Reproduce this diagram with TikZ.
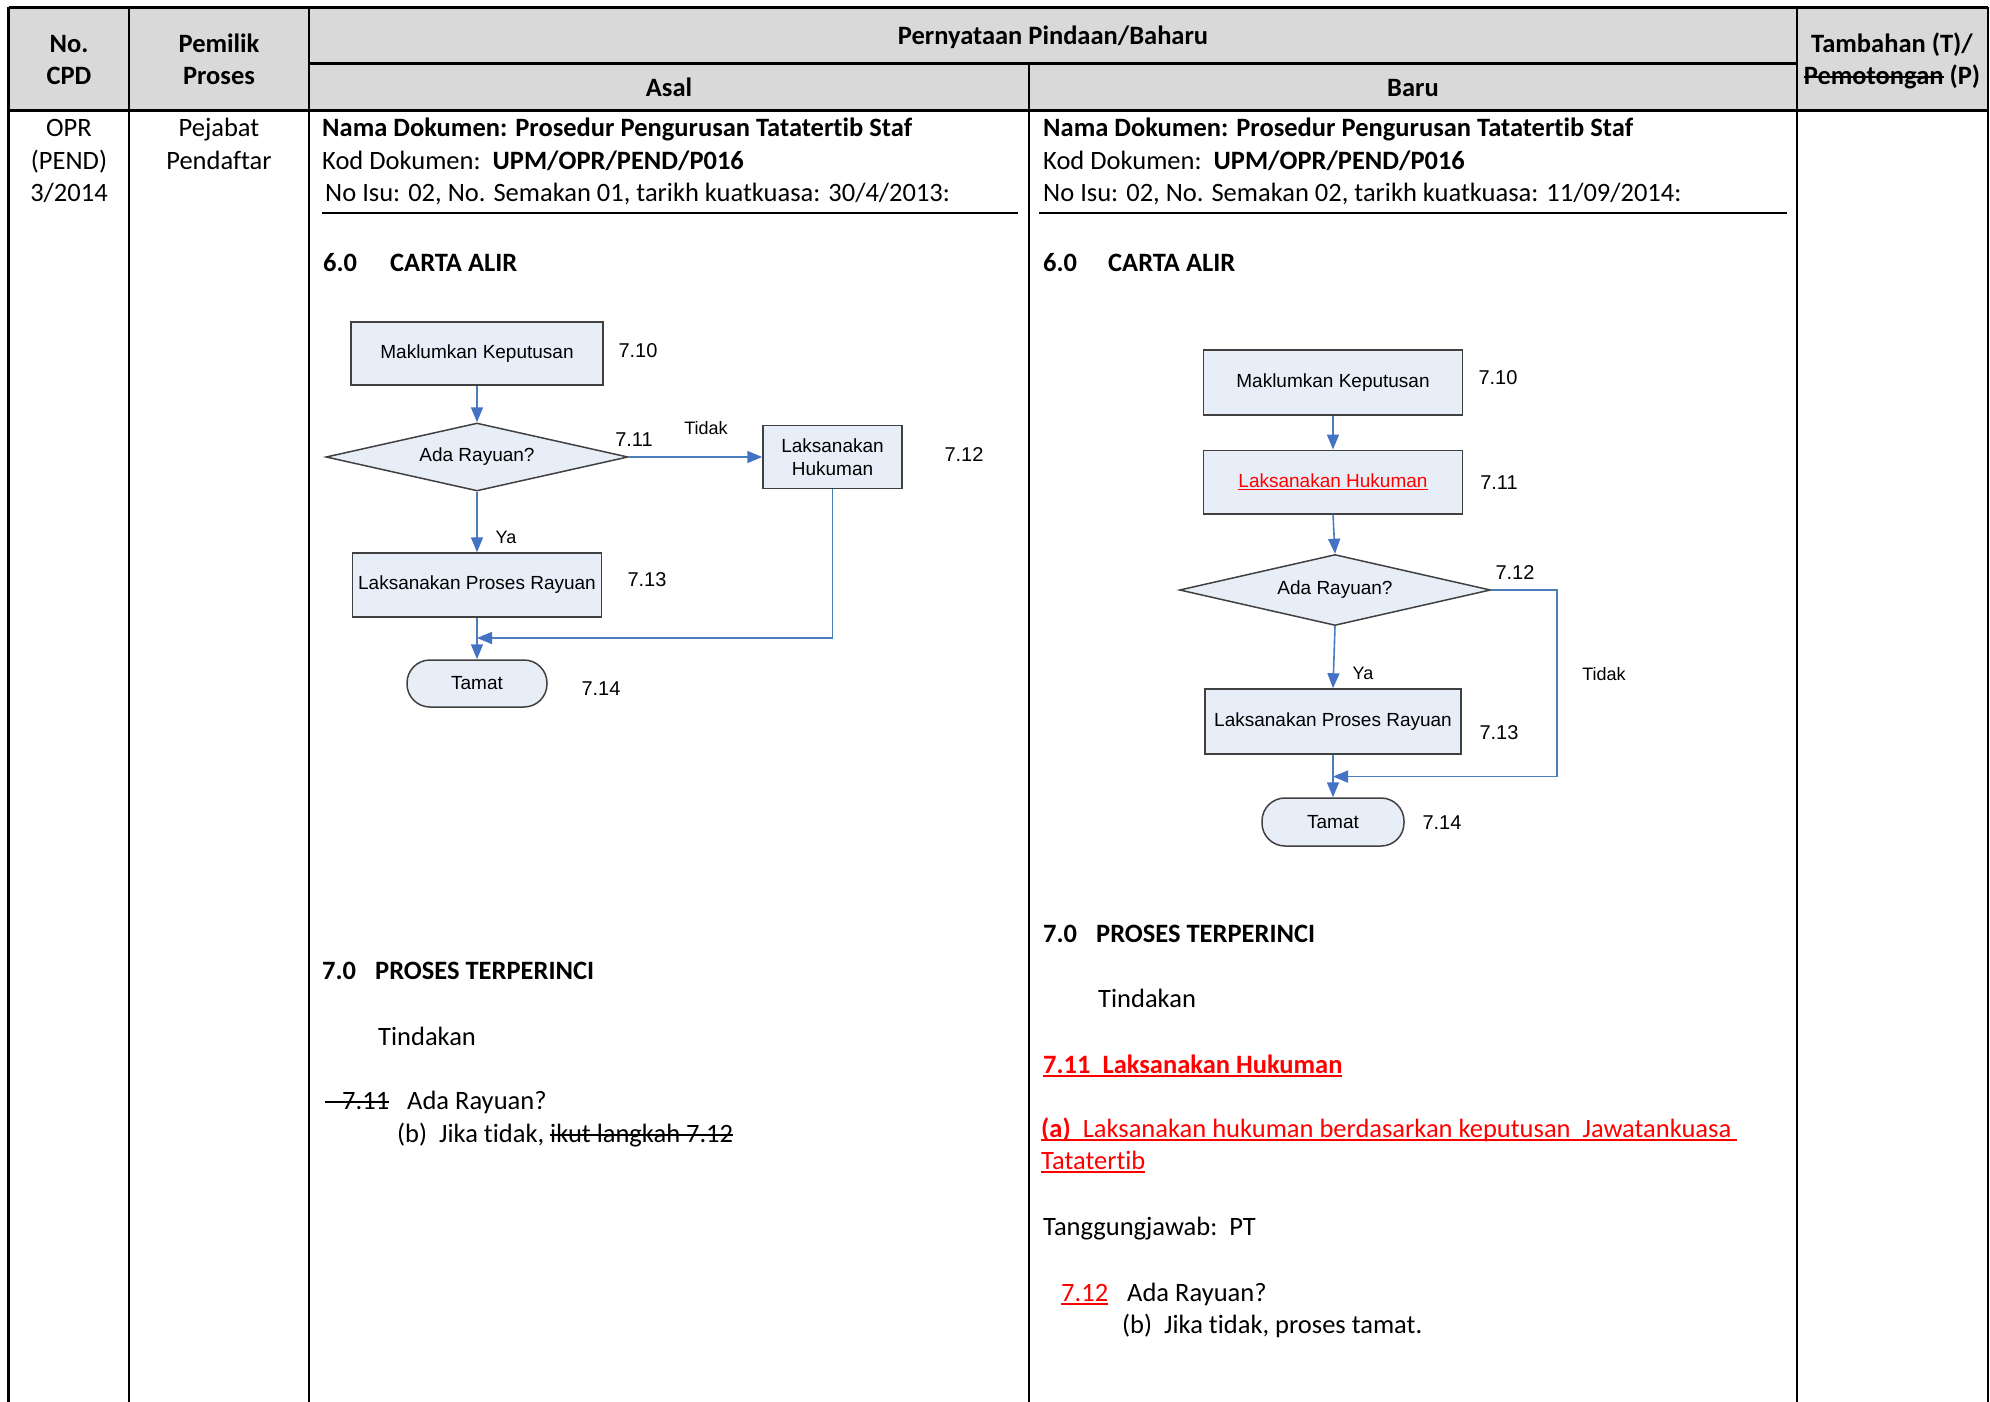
\documentclass[tikz,border=0pt]{standalone}
\usepackage{fontspec}
\setmainfont{Carlito}[Ligatures={NoCommon,NoContextual}]
\newfontfamily\chartfont{Liberation Sans}
\usetikzlibrary{shapes.geometric,arrows.meta}
\newcommand\myul[1]{\setbox0\hbox{#1}\rlap{\rule[-0.13em]{\wd0}{0.065em}}\box0\relax}
\newcommand\mystrike[1]{\setbox0\hbox{#1}\rlap{\rule[0.26em]{\wd0}{0.06em}}\box0\relax}
\definecolor{hdr}{HTML}{D9D9D9}
\definecolor{boxfill}{HTML}{E8EEF8}
\definecolor{boxline}{HTML}{404040}
\definecolor{flow}{HTML}{4A7EBB}
\definecolor{tipc}{HTML}{4472C4}
\definecolor{redtxt}{HTML}{FF0000}
\tikzset{
  tline/.style={line width=2.6pt, black},
  body/.style={inner sep=0pt, font=\fontsize{26.5}{32}\selectfont, text height=17pt, text depth=0pt},
  hb/.style={body, font=\fontsize{26.5}{32}\selectfont\bfseries},
  fbox/.style={draw=boxline, line width=1.5pt, fill=boxfill, inner sep=0pt,
    font=\chartfont\fontsize{19}{24}\selectfont, align=center},
  termbox/.style={fbox, rounded corners=23pt},
  dia/.style={fbox, diamond, aspect=4.4},
  lbl/.style={inner sep=0pt, font=\chartfont\fontsize{20}{24}\selectfont, text height=14.3pt, text depth=0pt},
  yn/.style={inner sep=0pt, font=\chartfont\fontsize{18}{22}\selectfont, text height=13pt, text depth=0pt},
  arr/.style={draw=flow, line width=1.6pt, -{Triangle[length=15pt,width=12pt,color=tipc]}}
}
\begin{document}
\begin{tikzpicture}[x=1pt,y=-1pt]
\useasboundingbox (0,0) rectangle (1990,1402);
% ---------- table ----------
\fill[hdr] (8.5,7.5) rectangle (1988,110.5);
\draw[tline] (8.5,7.5) -- (1988,7.5);
\draw[tline] (309,63.5) -- (1797,63.5);
\draw[tline] (8.5,110.5) -- (1988,110.5);
\draw[tline] (8.5,7.5) -- (8.5,1402);
\draw[tline] (129,7.5) -- (129,1402);
\draw[tline] (309,7.5) -- (309,1402);
\draw[tline] (1029,63.5) -- (1029,1402);
\draw[tline] (1797,7.5) -- (1797,1402);
\draw[tline] (1988,7.5) -- (1988,1402);
% header texts
\node[hb] (hno) at (69,44) {No.};
\node[hb] (hcpd) at (69,76) {CPD};
\node[hb] (hpem) at (219,44) {Pemilik};
\node[hb] (hpro) at (219,76) {Proses};
\node[hb] (hpern) at (1053,36) {Pernyataan Pindaan/Baharu};
\node[hb] (hasal) at (669,88) {Asal};
\node[hb] (hbaru) at (1413,88) {Baru};
\node[hb] (htam) at (1892,44) {Tambahan (T)/};
\node[hb] (hpot) at (1892,76) {\mystrike{Pemotongan} (P)};
% column 1 and 2
\node[body] (opr) at (69,128) {OPR};
\node[body] (pend) at (69,161) {(PEND)};
\node[body] (yr) at (69,193) {3/2014};
\node[body] (pej) at (219,128) {Pejabat};
\node[body] (pdf) at (219,161) {Pendaftar};
% ---------- Asal text ----------
\node[hb, anchor=west] (a1) at (322,128) {Nama Dokumen: Prosedur Pengurusan Tatatertib Staf};
\node[body, anchor=west] (a2) at (322,161) {Kod Dokumen:\ \ \textbf{UPM/OPR/PEND/P016}};
\node[body, anchor=west] (a3) at (325,193) {No Isu: 02, No. Semakan 01, tarikh kuatkuasa: 30/4/2013:};
\draw[line width=2pt] (322,213) -- (1018,213);
\node[hb, anchor=west] (a60) at (323,263) {6.0};
\node[hb, anchor=west] (a6t) at (390,263) {CARTA ALIR};
\node[hb, anchor=west] (a70) at (322,971) {7.0};
\node[hb, anchor=west] (a7t) at (375,971) {PROSES TERPERINCI};
\node[body, anchor=west] (atin) at (378,1037) {Tindakan};
\node[body, anchor=west] (a711) at (325,1101) {\mystrike{\hbox to 17pt{}7.11}};
\node[body, anchor=west] (aada) at (407,1101) {Ada Rayuan?};
\node[body, anchor=west] (ab) at (397,1134) {(b)\ \ Jika tidak, \mystrike{ikut langkah 7.12}};
% ---------- Baru text ----------
\node[hb, anchor=west] (b1) at (1043,128) {Nama Dokumen: Prosedur Pengurusan Tatatertib Staf};
\node[body, anchor=west] (b2) at (1043,161) {Kod Dokumen:\ \ \textbf{UPM/OPR/PEND/P016}};
\node[body, anchor=west] (b3) at (1043,193) {No Isu: 02, No. Semakan 02, tarikh kuatkuasa: 11/09/2014:};
\draw[line width=2pt] (1039,213) -- (1787,213);
\node[hb, anchor=west] (b60) at (1043,263) {6.0};
\node[hb, anchor=west] (b6t) at (1108,263) {CARTA ALIR};
\node[hb, anchor=west] (b70) at (1043,934) {7.0};
\node[hb, anchor=west] (b7t) at (1096,934) {PROSES TERPERINCI};
\node[body, anchor=west] (btin) at (1098,999) {Tindakan};
\node[hb, anchor=west, text=redtxt] (b711) at (1043,1065) {\myul{7.11\ \ Laksanakan Hukuman}};
\node[body, anchor=west, text=redtxt] (ba) at (1041,1129) {\myul{\textbf{(a)}\ \ Laksanakan hukuman berdasarkan keputusan\ \ Jawatankuasa\ }};
\node[body, anchor=west, text=redtxt] (bta) at (1041,1161) {\myul{Tatatertib}};
\node[body, anchor=west] (btg) at (1043,1227) {Tanggungjawab:\ \ PT};
\node[body, anchor=west, text=redtxt] (b712) at (1061,1293) {\myul{7.12}};
\node[body, anchor=west] (bada) at (1127,1293) {Ada Rayuan?};
\node[body, anchor=west] (bb) at (1122,1325) {(b)\ \ Jika tidak, proses tamat.};
% ---------- left flowchart ----------
\node[fbox, minimum width=252pt, minimum height=63pt] (m1) at (477,353.5) {Maklumkan Keputusan};
\node[dia, minimum width=302pt, minimum height=68pt] (d1) at (477,457) {Ada Rayuan?};
\node[fbox, minimum width=139pt, minimum height=63pt] (h1) at (832.5,457) {Laksanakan\\[-1pt]Hukuman};
\node[fbox, minimum width=249pt, minimum height=64pt] (r1) at (477,585) {Laksanakan Proses Rayuan};
\node[termbox, minimum width=140pt, minimum height=47pt] (t1) at (477,683.5) {Tamat};
\coordinate (j1) at (477,638);
\node[lbl] (l710) at (638,350) {7.10};
\node[lbl] (l711) at (634,439) {7.11};
\node[yn] (ltid) at (706,428) {Tidak};
\node[lbl] (l712) at (964,454) {7.12};
\node[yn] (lya) at (506,537) {Ya};
\node[lbl] (l713) at (647,579) {7.13};
\node[lbl] (l714) at (601,688) {7.14};
\draw[arr] (m1.south) -- (d1.north);
\draw[arr] (d1.east) -- (h1.west);
\draw[arr] (d1.south) -- (r1.north);
\draw[arr] (r1.south) -- (t1.north);
\draw[arr] (h1.south) |- (j1);
% ---------- right flowchart ----------
\node[fbox, minimum width=259pt, minimum height=65pt] (m2) at (1333,382.5) {Maklumkan Keputusan};
\node[fbox, minimum width=259pt, minimum height=63.5pt, text=redtxt] (h2) at (1333,482) {\myul{Laksanakan Hukuman}};
\node[dia, minimum width=311pt, minimum height=71pt] (d2) at (1335,590) {Ada Rayuan?};
\node[fbox, minimum width=256pt, minimum height=65pt] (r2) at (1333,721.5) {Laksanakan Proses Rayuan};
\node[termbox, minimum width=142pt, minimum height=48pt] (t2) at (1333,822) {Tamat};
\coordinate (k2) at (1557,776.6);
\coordinate (j2) at (1333,776.6);
\node[lbl] (r710) at (1498,377) {7.10};
\node[lbl] (r711) at (1499,482) {7.11};
\node[lbl] (r712) at (1515,572) {7.12};
\node[yn] (rya) at (1363,673) {Ya};
\node[yn] (rtid) at (1604,674) {Tidak};
\node[lbl] (r713) at (1499,732) {7.13};
\node[lbl] (r714) at (1442,822) {7.14};
\draw[arr] (m2.south) -- (h2.north);
\draw[arr] (h2.south) -- (d2.north);
\draw[arr] (d2.south) -- (r2.north);
\draw[arr] (r2.south) -- (t2.north);
\draw[arr] (d2.east) -| (k2) -- (j2);
\end{tikzpicture}
\end{document}
